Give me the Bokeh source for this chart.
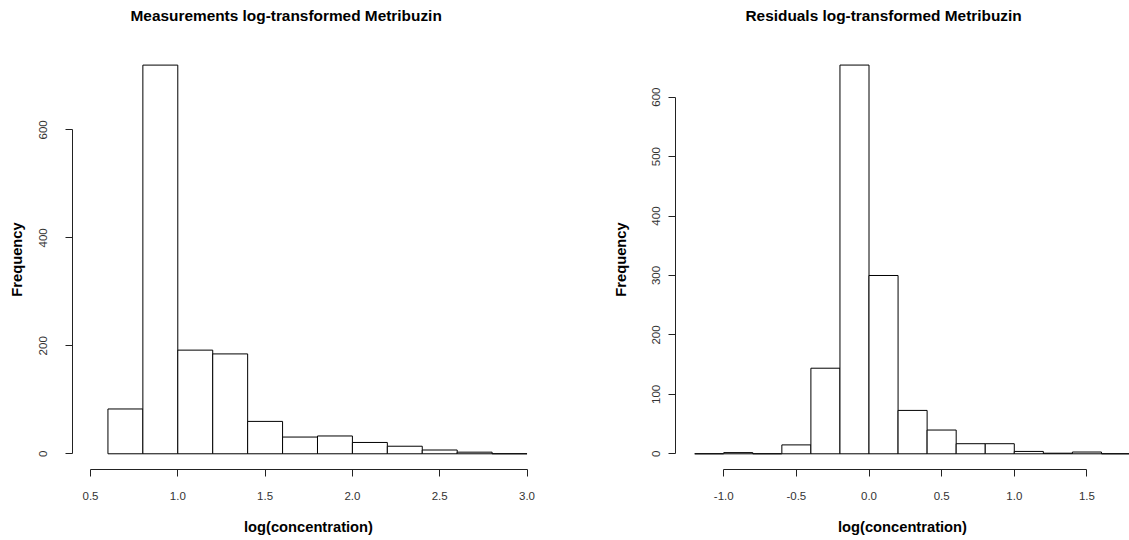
from bokeh.plotting import figure
from bokeh.layouts import row
from bokeh.models import Range1d, FixedTicker, Title
from bokeh.embed import file_html
from bokeh.resources import INLINE

# ---------------- data ----------------
meas_title = "Measurements log-transformed Metribuzin"
meas_breaks = [0.6, 0.8, 1.0, 1.2, 1.4, 1.6, 1.8, 2.0, 2.2, 2.4, 2.6, 2.8, 3.0]
meas_counts = [83, 720, 192, 185, 60, 31, 33, 21, 14, 7, 3, 0]
meas_xticks = [0.5, 1.0, 1.5, 2.0, 2.5, 3.0]
meas_xtick_labels = ["0.5", "1.0", "1.5", "2.0", "2.5", "3.0"]
meas_yticks = [0, 200, 400, 600]

resid_title = "Residuals log-transformed Metribuzin"
resid_breaks = [-1.2, -1.0, -0.8, -0.6, -0.4, -0.2, 0.0, 0.2, 0.4, 0.6,
                0.8, 1.0, 1.2, 1.4, 1.6, 1.8, 2.0]
resid_counts = [0, 2, 0, 15, 144, 654, 300, 73, 40, 17, 17, 4, 1, 3, 0, 0]
resid_xticks = [-1.0, -0.5, 0.0, 0.5, 1.0, 1.5]
resid_xtick_labels = ["-1.0", "-0.5", "0.0", "0.5", "1.0", "1.5"]
resid_yticks = [0, 100, 200, 300, 400, 500, 600]

x_label = "log(concentration)"
y_label = "Frequency"

FONT = "Liberation Sans"


def hist_fig(title, breaks, counts, xticks, xlabels, yticks, xr, yr, width,
             border_left, border_right, tick_standoff, label_standoff,
             title_offset):
    p = figure(width=width, height=540,
               x_range=Range1d(*xr), y_range=Range1d(*yr),
               output_backend="svg", toolbar_location=None,
               min_border_left=border_left, min_border_right=border_right,
               min_border_top=49, min_border_bottom=71)
    p.title = Title(text=title, align="left", offset=title_offset,
                    text_font=FONT, text_font_size="15.4px",
                    text_font_style="bold", text_color="black", standoff=0,
                    padding=dict(left=0, right=0, top=0, bottom=26))
    p.quad(left=breaks[:-1], right=breaks[1:], bottom=0, top=counts,
           fill_color="white", line_color="black", line_width=1)

    p.xgrid.visible = False
    p.ygrid.visible = False
    p.outline_line_color = None
    p.background_fill_color = "white"
    p.border_fill_color = "white"

    xa = p.xaxis[0]
    xa.ticker = FixedTicker(ticks=xticks)
    xa.major_label_overrides = {t: l for t, l in zip(xticks, xlabels)}
    xa.bounds = (xticks[0], xticks[-1])
    xa.axis_label = x_label
    xa.major_label_standoff = 15
    xa.axis_label_standoff = 16

    ya = p.yaxis[0]
    ya.ticker = FixedTicker(ticks=yticks)
    ya.bounds = (yticks[0], yticks[-1])
    ya.axis_label = y_label
    ya.major_label_orientation = "vertical"
    ya.major_label_standoff = tick_standoff
    ya.axis_label_standoff = label_standoff

    for ax in (xa, ya):
        ax.axis_line_color = "#222222"
        ax.major_tick_line_color = "#222222"
        ax.major_tick_in = 0
        ax.major_tick_out = 7
        ax.minor_tick_line_color = None
        ax.major_label_text_font = FONT
        ax.major_label_text_font_size = "11.5px"
        ax.major_label_text_color = "#333333"
        ax.axis_label_text_font = FONT
        ax.axis_label_text_font_size = "14.7px"
        ax.axis_label_text_font_style = "bold"
        ax.axis_label_text_color = "black"
    return p


left = hist_fig(meas_title, meas_breaks, meas_counts, meas_xticks,
                meas_xtick_labels, meas_yticks,
                (0.397, 3.1), (-29.1, 748.9), 600, 72, 56, 18, 12, 58)
right = hist_fig(resid_title, resid_breaks, resid_counts, resid_xticks,
                 resid_xtick_labels, resid_yticks,
                 (-1.332, 1.793), (-26.4, 680.2), 529, 75, 0, 8, 21, 70)

layout = row(left, right)
open("out.html", "w").write(file_html(layout, INLINE))
